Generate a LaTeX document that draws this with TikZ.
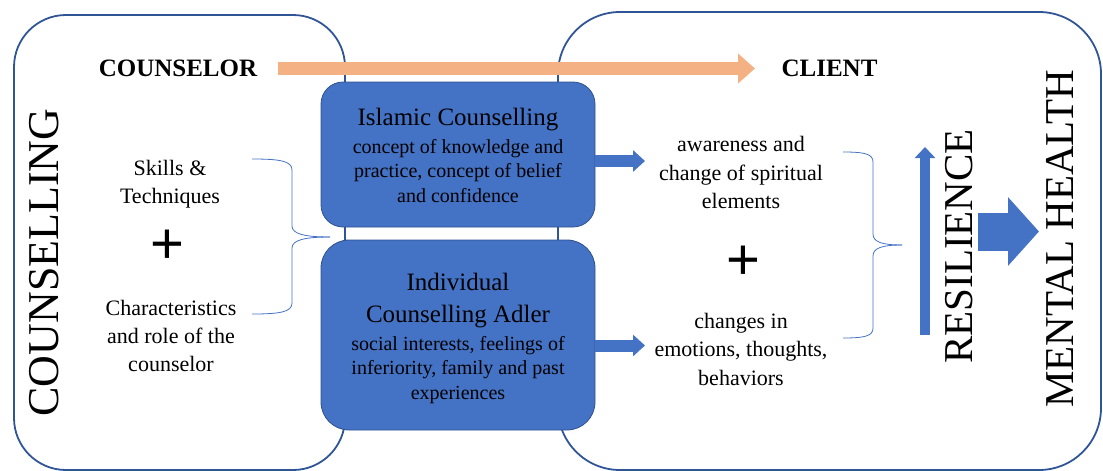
\documentclass[tikz,border=0pt]{standalone}
\usepackage{fontspec}
\setmainfont{Liberation Serif}
\newfontfamily\plusfont{Liberation Sans}
\usetikzlibrary{arrows.meta}
\definecolor{frameblue}{HTML}{2F5597}
\definecolor{boxblue}{HTML}{4472C4}
\definecolor{boxline}{HTML}{2F528F}
\definecolor{orangefill}{HTML}{F4B183}
\newcommand{\fsz}[2]{\fontsize{#1}{#2}\selectfont}
\begin{document}
\begin{tikzpicture}[x=1pt,y=-1pt,
  frame/.style={draw=frameblue,line width=1.8pt},
  bluebox/.style={draw=boxline,line width=0.8pt,fill=boxblue,inner sep=0pt,outer sep=0pt},
  bigcap/.style={font=\fsz{25}{30}\bfseries,inner sep=0pt},
  boxtitle/.style={font=\fsz{25}{32},align=center,inner sep=0pt,anchor=base},
  boxbody/.style={font=\fsz{20}{24.5},align=center,inner sep=0pt,anchor=base},
  sidetext/.style={font=\fsz{22}{28.3},align=center,inner sep=0pt,anchor=base},
  plussign/.style={font=\plusfont\fsz{58}{58},inner sep=0pt},
  vertical/.style={font=\fsz{41}{41},rotate=90,inner sep=0pt},
  bracestyle/.style={draw=boxblue,line width=0.8pt},
  thinarrow/.style={draw=boxblue,line width=12pt,-{Triangle[width=21pt,length=12pt]}},
]
\useasboundingbox (0,0) rectangle (1103,471);

% frames
\draw[frame,rounded corners=52pt] (14,15) rectangle (345,470);
\draw[frame,rounded corners=62pt] (558,12) rectangle (1101,470);

% central boxes
\node[bluebox,rounded corners=22pt,minimum width=274pt,minimum height=145pt] (islamic) at (458,154.5) {};
\node[bluebox,rounded corners=28pt,minimum width=274pt,minimum height=190pt] (adler) at (458,335) {};

% (base anchor of a multi-line node = baseline of its last line)
\node[boxtitle] (islamictitle) at (458,125) {Islamic Counselling};
\node[boxbody] (islamicbody) at (458,202) {concept of knowledge and\\practice, concept of belief\\and confidence};
\node[boxtitle] (adlertitle) at (458,322) {Individual\\Counselling Adler};
\node[boxbody] (adlerbody) at (458,399) {social interests, feelings of\\inferiority, family and past\\experiences};

% headings
\node[bigcap] (counselor) at (178,68.5) {COUNSELOR};
\node[bigcap] (client) at (829.5,68.5) {CLIENT};

% orange arrow
\coordinate (orangestart) at (278,68.5);
\coordinate (orangetip) at (755,68.5);
\draw[orangefill,line width=13pt,-{Triangle[width=29pt,length=17pt]}] (orangestart) -- (orangetip);

% left texts
\node[sidetext] (skills) at (170,203.3) {Skills \&\\Techniques};
\node[plussign] (plusleft) at (167,247) {+};
\node[sidetext] (characteristics) at (171,371.7) {Characteristics\\and role of the\\counselor};

% right texts
\node[sidetext] (awareness) at (741,208.3) {awareness and\\change of spiritual\\elements};
\node[plussign] (plusright) at (743,263) {+};
\node[sidetext] (changes) at (741,385) {changes in\\emotions, thoughts,\\behaviors};

% braces
\draw[bracestyle] (252,159) .. controls (280,159) and (292,161) .. (292,170) -- (292,226) .. controls (292,234) and (305,237) .. (330,237);
\draw[bracestyle] (252,314) .. controls (280,314) and (292,312) .. (292,303) -- (292,248) .. controls (292,240) and (305,237) .. (330,237);
\draw[bracestyle] (843,152) .. controls (865,152) and (873,154) .. (873,162) -- (873,234) .. controls (873,242) and (882,245) .. (902,245);
\draw[bracestyle] (843,338) .. controls (865,338) and (873,336) .. (873,328) -- (873,256) .. controls (873,248) and (882,245) .. (902,245);

% blue arrows to client texts
\coordinate (awaretip) at (645,161);
\coordinate (changetip) at (645,345.5);
\draw[thinarrow] (islamic.east |- awaretip) -- (awaretip);
\draw[thinarrow] (adler.east |- changetip) -- (changetip);

% resilience
\coordinate (resbase) at (925,335);
\coordinate (restip) at (925,147);
\draw[boxblue,line width=10pt,-{Triangle[width=20pt,length=11pt]}] (resbase) -- (restip);
\node[vertical] (resilience) at (959.5,246.5) {RESILIENCE};

\coordinate (bigbase) at (978,231.5);
\coordinate (bigtip) at (1039,231.5);
\draw[boxblue,line width=38pt,-{Triangle[width=67pt,length=31pt]}] (bigbase) -- (bigtip);
\node[vertical] (mentalhealth) at (1059.5,239) {MENTAL HEALTH};

\node[vertical,font=\fsz{44}{44}] (counselling) at (44.5,262.5) {COUNSELLING};
\end{tikzpicture}
\end{document}
